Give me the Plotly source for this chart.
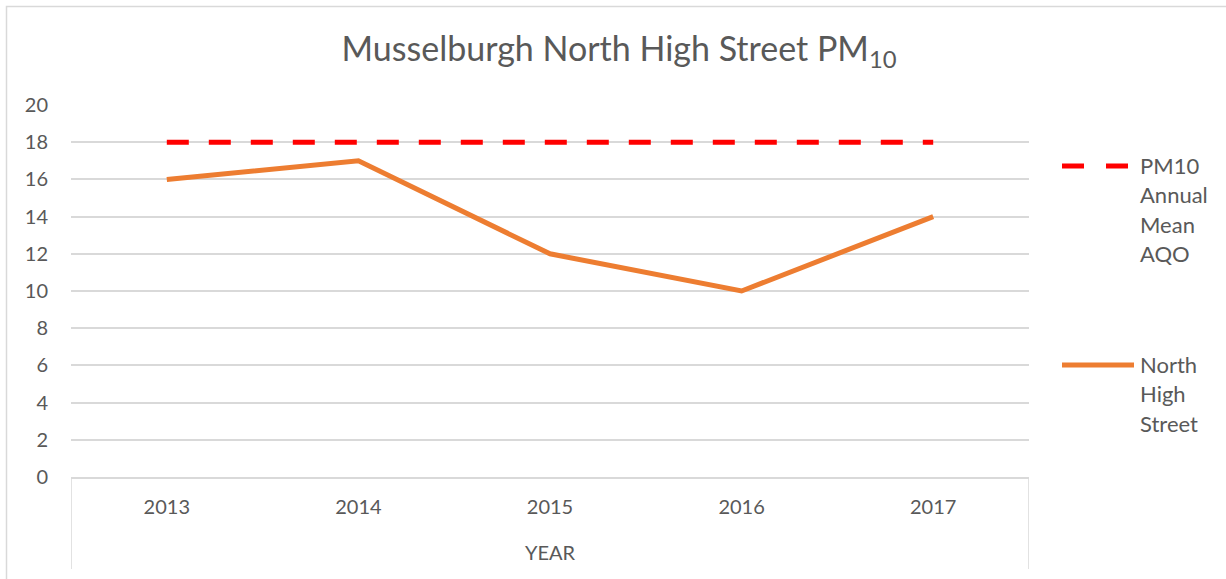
import plotly.graph_objects as go

years = ["2013", "2014", "2015", "2016", "2017"]
aqo = [18, 18, 18, 18, 18]
north_high = [16, 17, 12, 10, 14]
series_names = ["PM10<br>Annual<br>Mean<br>AQO", "North<br>High<br>Street"]
y_ticks = [0, 2, 4, 6, 8, 10, 12, 14, 16, 18, 20]
title_text = "Musselburgh North High Street PM<sub>10</sub>"
x_title = "YEAR"

W, H = 1226, 579
L, R, T, B = 71, 197, 105, 102
pw, ph = W - L - R, H - T - B

def px(x):
    return (x - L) / pw

def py(y):
    return (H - B - y) / ph

FONT = "Lato"
TXT = "#595959"
GRID = "#D9D9D9"
RED = "#FF0000"
ORANGE = "#ED7D31"

fig = go.Figure()
fig.add_trace(go.Scatter(x=years, y=aqo, mode="lines", name=series_names[0],
                         line=dict(color=RED, width=5, dash="22px,20px"),
                         showlegend=False, hoverinfo="skip"))
fig.add_trace(go.Scatter(x=years, y=north_high, mode="lines", name=series_names[1],
                         line=dict(color=ORANGE, width=5),
                         showlegend=False, hoverinfo="skip"))

shapes = []
annotations = []
# chart border (left and top visible)
shapes.append(dict(type="rect", xref="paper", yref="paper",
                   x0=px(6.5), x1=px(1300), y0=py(700), y1=py(6.5),
                   line=dict(color=GRID, width=1.5), layer="below"))
# category axis outer dividers
for xv in [-0.5, len(years) - 0.5]:
    shapes.append(dict(type="line", xref="x", yref="paper", x0=xv, x1=xv,
                       y0=0, y1=py(569), line=dict(color=GRID, width=1.5)))

# manual legend
leg = [
    (series_names[0], RED, "22px,22px", 166, 1062, 1128),
    (series_names[1], ORANGE, "solid", 365, 1062, 1134),
]
for name, col, dash, ycen, gx0, gx1 in leg:
    shapes.append(dict(type="line", xref="paper", yref="paper",
                       x0=px(gx0), x1=px(gx1), y0=py(ycen), y1=py(ycen),
                       line=dict(color=col, width=5, dash=dash)))
    for i, word in enumerate(name.split("<br>")):
        annotations.append(dict(text=word, xref="paper", yref="paper",
                                x=px(1138), y=py(ycen - 1 + i * 29.5),
                                xanchor="left", yanchor="middle", showarrow=False,
                                font=dict(family=FONT, size=22, color=TXT)))

fig.update_layout(
    width=W, height=H,
    margin=dict(l=L, r=R, t=T, b=B, autoexpand=False),
    paper_bgcolor="white", plot_bgcolor="white",
    title=dict(text=title_text, x=619 / W, xref="container", xanchor="center",
               y=1 - 49 / H, yref="container", yanchor="middle",
               font=dict(family=FONT, size=34, color=TXT)),
    shapes=shapes, annotations=annotations,
    showlegend=False,
    xaxis=dict(type="category", range=[-0.5, len(years) - 0.5], automargin=False,
               showgrid=False, zeroline=False,
               showline=True, linecolor=GRID, linewidth=1.5,
               ticks="", ticklabelstandoff=11,
               tickfont=dict(family=FONT, size=20, color=TXT),
               title=dict(text=x_title, standoff=29,
                          font=dict(family=FONT, size=20, color=TXT))),
    yaxis=dict(range=[0, 20], tickvals=y_ticks, showgrid=True, automargin=False,
               gridcolor=GRID, gridwidth=1.5, zeroline=False, showline=False,
               ticks="", ticklabelstandoff=22,
               tickfont=dict(family=FONT, size=20, color=TXT)),
)

fig.write_html("out.html", config={"displayModeBar": False},
               post_script="document.body.style.margin='0';document.body.style.padding='0';")
